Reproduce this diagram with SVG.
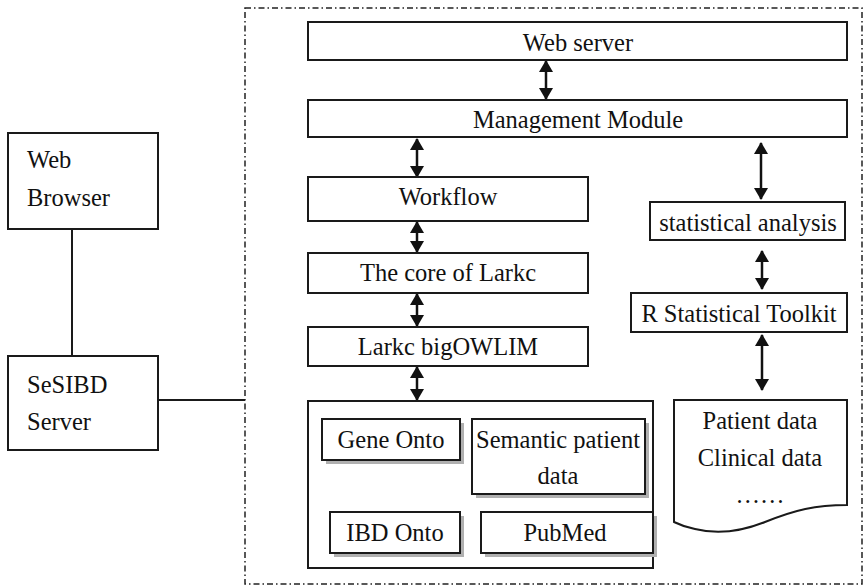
<svg xmlns="http://www.w3.org/2000/svg" width="868" height="588" viewBox="0 0 868 588">
<style>
  .box{fill:#fff;stroke:#1a1a1a;stroke-width:2}
  .sh{fill:#b0b0b0}
  .t{font-family:"Liberation Serif","Times New Roman",serif;font-size:24.5px;fill:#111}
  .m{text-anchor:middle}
  .ln{stroke:#1a1a1a;stroke-width:2;fill:none}
  .ar{stroke:#111;stroke-width:2.5;fill:none;marker-start:url(#ah);marker-end:url(#ah)}
</style>
<defs>
  <marker id="ah" viewBox="0 0 12 14" refX="11" refY="7" markerWidth="12" markerHeight="14" markerUnits="userSpaceOnUse" orient="auto-start-reverse">
    <path d="M0,0 L12,7 L0,14 Z" fill="#111"/>
  </marker>
</defs>
<rect width="868" height="588" fill="#fff"/>
<rect id="boundary" x="245" y="8" width="617" height="576" fill="none" stroke="#222" stroke-width="1.5" stroke-dasharray="6 3 1.5 3"/>

<g id="connectors">
  <line class="ln" x1="72" y1="229" x2="72" y2="356"/>
  <line class="ln" x1="158" y1="400" x2="245" y2="400"/>
  <line class="ar" x1="546" y1="61" x2="546" y2="99"/>
  <line class="ar" x1="417" y1="139" x2="417" y2="177"/>
  <line class="ar" x1="417" y1="222" x2="417" y2="252"/>
  <line class="ar" x1="417" y1="294" x2="417" y2="326"/>
  <line class="ar" x1="417" y1="367" x2="417" y2="400"/>
  <line class="ar" x1="761" y1="143" x2="761" y2="199"/>
  <line class="ar" x1="762" y1="251" x2="762" y2="289"/>
  <line class="ar" x1="762" y1="335" x2="762" y2="390"/>
</g>

<g id="web-browser">
  <rect class="box" x="8" y="133" width="150" height="96"/>
  <text class="t" x="27" y="168">Web</text>
  <text class="t" x="27" y="206">Browser</text>
</g>
<g id="sesibd-server">
  <rect class="box" x="8" y="356" width="150" height="94"/>
  <text class="t" x="27" y="393">SeSIBD</text>
  <text class="t" x="27" y="430">Server</text>
</g>

<g id="web-server">
  <rect class="box" x="308" y="22" width="539" height="38"/>
  <text class="t m" x="578" y="50.5">Web server</text>
</g>
<g id="management-module">
  <rect class="box" x="308" y="100" width="539" height="37"/>
  <text class="t m" x="578" y="128">Management Module</text>
</g>
<g id="workflow">
  <rect class="box" x="308" y="177" width="280" height="44"/>
  <text class="t m" x="448" y="205">Workflow</text>
</g>
<g id="core-of-larkc">
  <rect class="box" x="308" y="253" width="280" height="40"/>
  <text class="t m" x="448" y="281">The core of Larkc</text>
</g>
<g id="larkc-bigowlim">
  <rect class="box" x="308" y="327" width="280" height="39"/>
  <text class="t m" x="448" y="355">Larkc bigOWLIM</text>
</g>

<g id="data-store">
  <rect class="box" x="308" y="401" width="345" height="167"/>
</g>
<g id="gene-onto">
  <rect class="sh" x="326" y="423" width="138" height="41"/>
  <rect class="box" x="322" y="419" width="138" height="41"/>
  <text class="t m" x="391" y="448">Gene Onto</text>
</g>
<g id="semantic-patient-data">
  <rect class="sh" x="476" y="423" width="173" height="75"/>
  <rect class="box" x="472" y="419" width="173" height="75"/>
  <text class="t m" x="558" y="448">Semantic patient</text>
  <text class="t m" x="558" y="484">data</text>
</g>
<g id="ibd-onto">
  <rect class="sh" x="334" y="516" width="130" height="41"/>
  <rect class="box" x="330" y="512" width="130" height="41"/>
  <text class="t m" x="395" y="541">IBD Onto</text>
</g>
<g id="pubmed">
  <rect class="sh" x="485" y="516" width="172" height="41"/>
  <rect class="box" x="481" y="512" width="172" height="41"/>
  <text class="t m" x="565" y="541">PubMed</text>
</g>

<g id="statistical-analysis">
  <rect class="box" x="650" y="202" width="195" height="38"/>
  <text class="t m" x="748" y="231">statistical analysis</text>
</g>
<g id="r-statistical-toolkit">
  <rect class="box" x="631" y="293" width="216" height="39"/>
  <text class="t m" x="739" y="322">R Statistical Toolkit</text>
</g>
<g id="patient-data">
  <path class="box" d="M674,400 L847,400 L847,505 C815,505 795,510 765,522 C740,532 715,534 695,529 C685,527 680,525 674,522 Z"/>
  <text class="t m" x="760" y="429">Patient data</text>
  <text class="t m" x="760" y="466">Clinical data</text>
  <text class="t m" x="760" y="503">……</text>
</g>
</svg>
